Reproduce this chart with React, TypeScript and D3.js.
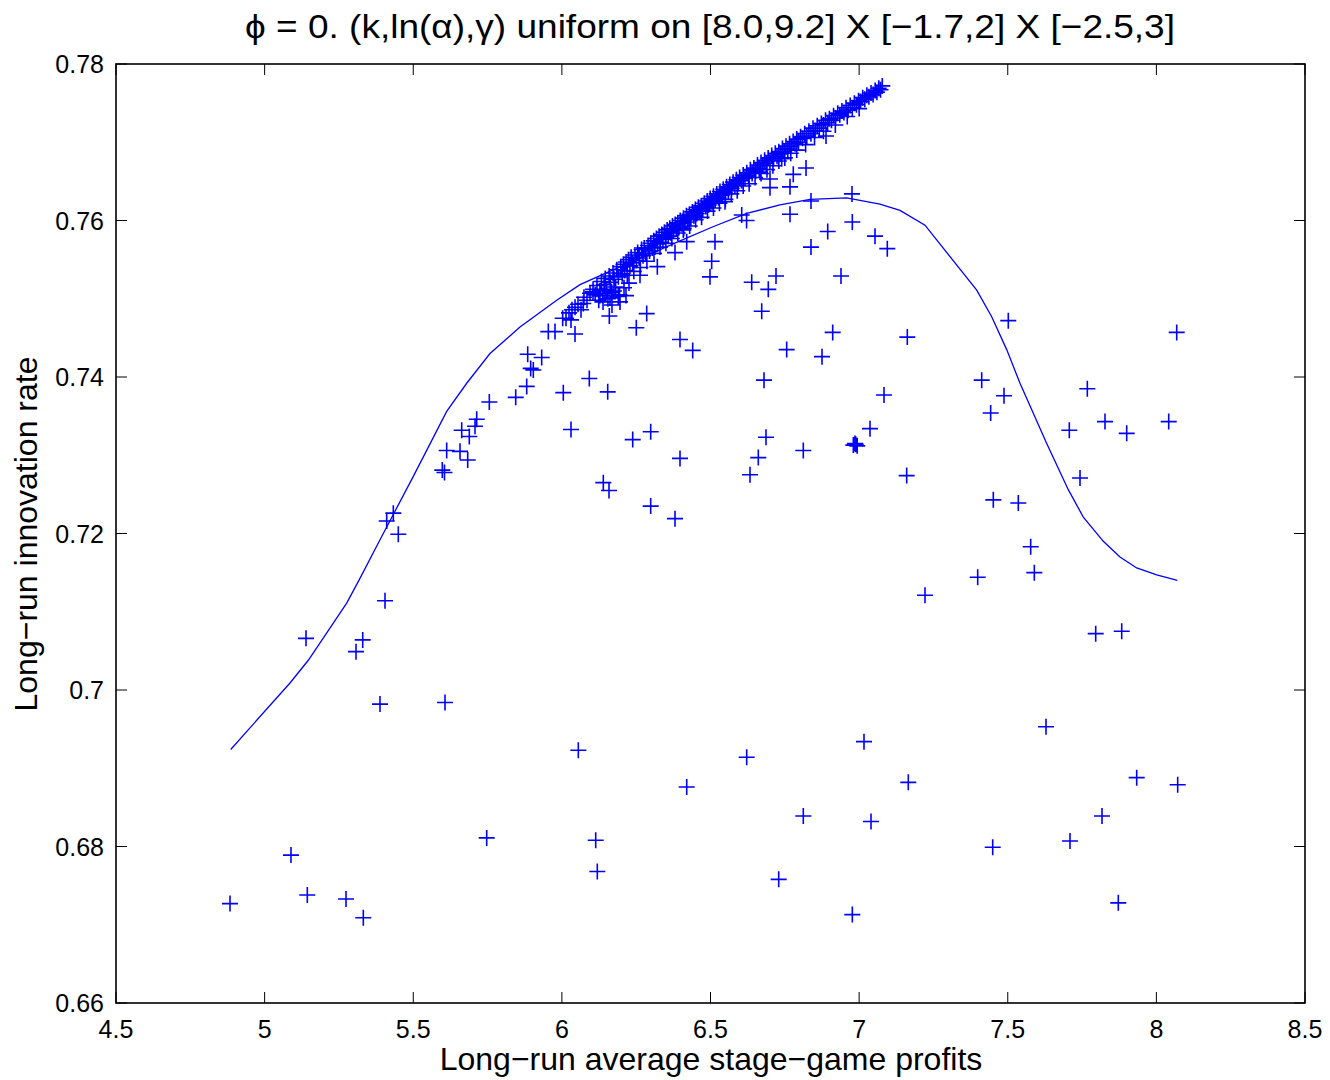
import React from 'react';
import * as d3 from 'd3';

// ---------- data ----------
const titleText = 'ϕ = 0. (k,ln(α),γ) uniform on [8.0,9.2] X [−1.7,2] X [−2.5,3]';
const xLabelText = 'Long−run average stage−game profits';
const yLabelText = 'Long−run innovation rate';

const xTicks = [4.5, 5, 5.5, 6, 6.5, 7, 7.5, 8, 8.5];
const xTickLabels = ['4.5', '5', '5.5', '6', '6.5', '7', '7.5', '8', '8.5'];
const yTicks = [0.66, 0.68, 0.7, 0.72, 0.74, 0.76, 0.78];
const yTickLabels = ['0.66', '0.68', '0.7', '0.72', '0.74', '0.76', '0.78'];

// smoothed regression curve
const curveX = [4.8859, 5.0854, 5.1469, 5.2761, 5.3185, 5.3882, 5.5002, 5.6125, 5.6798, 5.7582, 5.8591, 5.9826, 6.061, 6.172, 6.2965, 6.3974, 6.5084, 6.6218, 6.7338, 6.8347, 6.9582, 7.0702, 7.1375, 7.2216, 7.3956, 7.446, 7.4965, 7.5412, 7.6311, 7.7037, 7.7542, 7.8215, 7.8776, 7.9338, 8.0011, 8.0704];
const curveY = [0.6924, 0.7009, 0.7038, 0.7111, 0.7141, 0.7192, 0.7273, 0.7356, 0.7392, 0.743, 0.7464, 0.7498, 0.7518, 0.7537, 0.7557, 0.7574, 0.7592, 0.7609, 0.762, 0.7627, 0.7629, 0.7621, 0.7613, 0.7594, 0.7511, 0.7477, 0.7435, 0.7392, 0.7315, 0.7256, 0.7221, 0.719, 0.717, 0.7156, 0.7147, 0.714];

// scattered observations
const outlierPoints: [number, number][] = [
  [4.8835, 0.6727], [5.0887, 0.6789], [5.1436, 0.6738], [5.2738, 0.6733], [5.332, 0.6709],
  [5.1392, 0.7066], [5.33, 0.7064], [5.3074, 0.7049], [5.3881, 0.6982], [5.405, 0.7114],
  [5.6068, 0.6984], [5.7471, 0.6811], [5.4329, 0.7226], [5.4107, 0.7216], [5.4497, 0.7199],
  [5.5977, 0.7281], [5.6051, 0.7278], [5.6125, 0.7306], [5.6573, 0.7305], [5.6832, 0.7294],
  [5.663, 0.7332], [5.6886, 0.7324], [5.7135, 0.7346], [5.7078, 0.7337], [5.7559, 0.7368],
  [5.8447, 0.7374], [5.8817, 0.7388], [5.885, 0.7429], [5.8951, 0.7411], [5.9039, 0.7409],
  [5.9321, 0.7425], [6.0048, 0.738], [6.0307, 0.7333], [6.0923, 0.7398], [6.1542, 0.7381],
  [6.1394, 0.7265], [6.1586, 0.7255], [6.2383, 0.732], [6.2988, 0.733], [6.2988, 0.7235],
  [6.3806, 0.7219], [5.9544, 0.7458], [5.9769, 0.7458], [6.0442, 0.7455], [6.0027, 0.7475],
  [6.1596, 0.7478], [6.2504, 0.7463], [6.2854, 0.7481], [6.3974, 0.7448], [6.4401, 0.7434],
  [6.42, 0.7573], [6.5151, 0.7573], [6.504, 0.7548], [6.4983, 0.7528], [6.6386, 0.7521],
  [6.6944, 0.7512], [6.7204, 0.7529], [6.6723, 0.7484], [6.8381, 0.7566], [6.8943, 0.7586],
  [6.9771, 0.7598], [7.0534, 0.758], [7.0948, 0.7564], [6.939, 0.7529], [6.7563, 0.7435],
  [6.8751, 0.7426], [6.9111, 0.7457], [7.1621, 0.7451], [6.68, 0.7396], [7.0837, 0.7377],
  [6.6867, 0.7323], [6.6608, 0.7297], [6.6329, 0.7275], [6.8122, 0.7306], [7.0366, 0.7334],
  [6.9885, 0.7314], [6.9805, 0.7313], [6.9935, 0.7312], [6.986, 0.7315],
  [7.16, 0.7274], [6.3974, 0.7296], [6.605, 0.7607], [6.6214, 0.76], [6.7675, 0.7608],
  [6.7002, 0.7642], [6.7675, 0.7643], [6.8381, 0.7625], [6.976, 0.7634], [6.8886, 0.7708],
  [6.8213, 0.7667], [6.7785, 0.7659], [6.7395, 0.7679], [6.6665, 0.7662], [6.7002, 0.7653],
  [6.5488, 0.7624], [6.4085, 0.7588], [6.3806, 0.7559], [6.3211, 0.7541], [6.2628, 0.753],
  [6.1898, 0.7503], [6.0946, 0.7507], [6.0721, 0.7494], [6.1384, 0.7496], [6.1956, 0.7496],
  [7.5018, 0.7472], [8.0684, 0.7457], [7.4124, 0.7396], [7.4874, 0.7376], [7.4425, 0.7354],
  [7.7677, 0.7385], [7.7071, 0.7332], [7.8272, 0.7343], [7.9002, 0.7328], [8.0415, 0.7343],
  [7.7431, 0.7271], [7.4514, 0.7243], [7.5355, 0.7239], [7.5772, 0.7183], [7.5894, 0.715],
  [7.3989, 0.7144], [7.2216, 0.7121], [7.7959, 0.7072], [7.8834, 0.7075], [7.6287, 0.6953],
  [7.1654, 0.6882], [7.9338, 0.6888], [8.0717, 0.6879], [7.8171, 0.6839], [7.7094, 0.6807],
  [7.4494, 0.6799], [7.8719, 0.6728], [6.0553, 0.6923], [6.6218, 0.6914], [7.0164, 0.6934],
  [6.42, 0.6876], [6.8122, 0.6839], [7.04, 0.6832], [6.1138, 0.6808], [6.1192, 0.6768],
  [6.7294, 0.6758], [6.9771, 0.6713],
];

// cluster where the dense band starts
const clusterPoints: [number, number][] = [
  [6.0139, 0.7475], [6.024, 0.7482], [6.0341, 0.7486], [6.0442, 0.7489], [6.0543, 0.7493],
  [6.0644, 0.7486], [6.0307, 0.7473], [6.0744, 0.7502], [6.0845, 0.7498], [6.1047, 0.7509],
  [6.1182, 0.7512], [6.1283, 0.7504], [6.1451, 0.7507], [6.1619, 0.7501], [6.1753, 0.751],
  [6.1686, 0.7492], [6.209, 0.7514], [6.2258, 0.752], [6.2157, 0.7504],
];

// dense band of observations
const bandPoints: [number, number][] = [
  [6.105, 0.7512], [6.112, 0.7505], [6.118, 0.7517], [6.124, 0.7498], [6.128, 0.751], [6.133, 0.7522],
  [6.137, 0.7504], [6.142, 0.7518], [6.146, 0.7526], [6.151, 0.7512], [6.155, 0.75], [6.159, 0.7529],
  [6.163, 0.7521], [6.168, 0.7508], [6.172, 0.7533], [6.176, 0.7525], [6.181, 0.7515], [6.185, 0.7537],
  [6.19, 0.7528], [6.194, 0.7505], [6.198, 0.7541], [6.203, 0.7532],
  [6.207, 0.7544], [6.211, 0.7536], [6.216, 0.7547], [6.22, 0.753], [6.224, 0.755], [6.229, 0.7542],
  [6.233, 0.7553], [6.238, 0.7546], [6.242, 0.7535], [6.246, 0.7556], [6.251, 0.7549], [6.255, 0.7559],
  [6.26, 0.7552], [6.264, 0.754], [6.268, 0.7563], [6.273, 0.7555], [6.277, 0.7565], [6.282, 0.7558],
  [6.286, 0.7548], [6.29, 0.7568], [6.295, 0.7561], [6.299, 0.7571],
  [6.304, 0.7565], [6.309, 0.7574], [6.313, 0.7566], [6.318, 0.7577], [6.322, 0.757], [6.327, 0.758],
  [6.331, 0.7572], [6.336, 0.7582], [6.34, 0.7576], [6.345, 0.7585], [6.349, 0.7579], [6.354, 0.7588],
  [6.358, 0.758], [6.363, 0.759], [6.367, 0.7584], [6.372, 0.7593], [6.376, 0.7587], [6.381, 0.7595],
  [6.385, 0.7589], [6.39, 0.7597], [6.394, 0.7591], [6.398, 0.76],
  [6.404, 0.7596], [6.409, 0.7603], [6.414, 0.7598], [6.419, 0.7606], [6.424, 0.7601], [6.429, 0.7608],
  [6.434, 0.7603], [6.439, 0.7611], [6.444, 0.7606], [6.449, 0.7614], [6.454, 0.7609], [6.459, 0.7617],
  [6.464, 0.7612], [6.469, 0.7619], [6.474, 0.7614], [6.479, 0.7622], [6.484, 0.7618], [6.489, 0.7625],
  [6.494, 0.762], [6.499, 0.7628],
  [6.505, 0.7624], [6.51, 0.7631], [6.516, 0.7626], [6.521, 0.7634], [6.527, 0.7629], [6.532, 0.7637],
  [6.538, 0.7632], [6.543, 0.764], [6.549, 0.7635], [6.554, 0.7643], [6.56, 0.7638], [6.565, 0.7646],
  [6.571, 0.7641], [6.576, 0.7649], [6.582, 0.7644], [6.587, 0.7652], [6.593, 0.7647], [6.598, 0.7655],
  [6.604, 0.7651], [6.61, 0.7658], [6.616, 0.7654], [6.622, 0.7661], [6.628, 0.7657], [6.634, 0.7665],
  [6.64, 0.766], [6.646, 0.7667], [6.652, 0.7663], [6.658, 0.7671], [6.664, 0.7666], [6.67, 0.7674],
  [6.676, 0.767], [6.682, 0.7677], [6.688, 0.7673], [6.694, 0.768], [6.7, 0.7676],
  [6.706, 0.7683], [6.712, 0.7679], [6.718, 0.7686], [6.724, 0.7682], [6.73, 0.7688], [6.736, 0.7685],
  [6.742, 0.7692], [6.748, 0.7688], [6.754, 0.7695], [6.76, 0.7691], [6.766, 0.7698], [6.772, 0.7695],
  [6.778, 0.7701], [6.784, 0.7698], [6.79, 0.7704], [6.796, 0.77],
  [6.803, 0.7707], [6.81, 0.7705], [6.817, 0.7711], [6.824, 0.7708], [6.831, 0.7714], [6.838, 0.7711],
  [6.845, 0.7718], [6.852, 0.7715], [6.859, 0.7721], [6.866, 0.7718], [6.873, 0.7724], [6.88, 0.7722],
  [6.887, 0.7728], [6.894, 0.7725], [6.9, 0.773],
  [6.907, 0.7728], [6.914, 0.7734], [6.921, 0.7731], [6.928, 0.7737], [6.935, 0.7735], [6.942, 0.774],
  [6.949, 0.7738], [6.956, 0.7744], [6.963, 0.7741], [6.97, 0.7747], [6.977, 0.7744], [6.984, 0.775],
  [6.991, 0.7748], [6.998, 0.7753],
  [7.005, 0.7752], [7.012, 0.7757], [7.019, 0.7755], [7.026, 0.776], [7.033, 0.7758], [7.04, 0.7763],
  [7.047, 0.7761], [7.054, 0.7766], [7.06, 0.7764], [7.066, 0.7769], [7.072, 0.7767], [7.078, 0.7772],
];

// lower fringe of the dense band
const bandLowerPoints: [number, number][] = [
  [6.31, 0.7558], [6.33, 0.7566], [6.35, 0.7571], [6.37, 0.7577], [6.39, 0.7584], [6.41, 0.759],
  [6.43, 0.7593], [6.45, 0.7601], [6.47, 0.7604], [6.49, 0.7612], [6.51, 0.7616], [6.53, 0.7622],
  [6.55, 0.7627], [6.57, 0.7634], [6.59, 0.7638], [6.61, 0.7644], [6.63, 0.7647], [6.65, 0.7655],
  [6.67, 0.766], [6.69, 0.7665], [6.71, 0.767], [6.73, 0.7676], [6.75, 0.768], [6.77, 0.7686],
  [6.79, 0.769], [6.82, 0.7697], [6.85, 0.7706], [6.88, 0.7714], [6.92, 0.7722], [6.96, 0.7733],
  [7.0, 0.7743],
];

// ---------- chart ----------
const FONT = '"Liberation Sans", Arial, Helvetica, sans-serif';
const BLUE = '#0000ff';

export default function App() {
  const W = 1330;
  const H = 1080;
  const left = 116, right = 1305, top = 64, bottom = 1003;
  const tickLen = 11;
  const armLen = 8;

  const x = d3.scaleLinear().domain([4.5, 8.5]).range([left, right]);
  const y = d3.scaleLinear().domain([0.66, 0.78]).range([bottom, top]);

  const curveData = curveX.map((v, i) => [v, curveY[i]] as [number, number]);
  const linePath = d3.line<[number, number]>()
    .x((d) => x(d[0]))
    .y((d) => y(d[1]))
    .curve(d3.curveLinear)(curveData) || '';

  const allPoints = [...outlierPoints, ...clusterPoints, ...bandPoints, ...bandLowerPoints];
  const crossPath = allPoints
    .map(([a, b]) => {
      const px = x(a);
      const py = y(b);
      return `M${px - armLen},${py}H${px + armLen}M${px},${py - armLen}V${py + armLen}`;
    })
    .join('');

  return (
    <svg
      width={W}
      height={H}
      viewBox={`0 0 ${W} ${H}`}
      style={{ position: 'absolute', left: 0, top: 0, display: 'block', background: '#fff' }}
      fontFamily={FONT}
    >
      <rect x={0} y={0} width={W} height={H} fill="#fff" />

      {/* ticks */}
      <g stroke="#000" strokeWidth={1}>
        {xTicks.map((t) => (
          <g key={`xt${t}`}>
            <line x1={x(t)} x2={x(t)} y1={bottom} y2={bottom - tickLen} />
            <line x1={x(t)} x2={x(t)} y1={top} y2={top + tickLen} />
          </g>
        ))}
        {yTicks.map((t) => (
          <g key={`yt${t}`}>
            <line x1={left} x2={left + tickLen} y1={y(t)} y2={y(t)} />
            <line x1={right} x2={right - tickLen} y1={y(t)} y2={y(t)} />
          </g>
        ))}
      </g>

      {/* data */}
      <path d={crossPath} fill="none" stroke={BLUE} strokeWidth={1.6} />
      <path d={linePath} fill="none" stroke={BLUE} strokeWidth={1.3} />

      {/* box */}
      <rect x={left} y={top} width={right - left} height={bottom - top} fill="none" stroke="#000" strokeWidth={1.6} />

      {/* tick labels */}
      <g fontSize={25} fill="#000">
        {xTicks.map((t, i) => (
          <text key={`xl${t}`} x={x(t)} y={bottom + 35} textAnchor="middle">{xTickLabels[i]}</text>
        ))}
        {yTicks.map((t, i) => (
          <text key={`yl${t}`} x={left - 12} y={y(t) + 9} textAnchor="end">{yTickLabels[i]}</text>
        ))}
      </g>

      {/* titles */}
      <text x={710} y={38} textAnchor="middle" fontSize={34} fill="#000" textLength={930} lengthAdjust="spacingAndGlyphs">{titleText}</text>
      <text x={711} y={1070} textAnchor="middle" fontSize={32} fill="#000">{xLabelText}</text>
      <text
        transform={`translate(37,534) rotate(-90)`}
        textAnchor="middle"
        fontSize={32}
        fill="#000"
      >
        {yLabelText}
      </text>
    </svg>
  );
}
